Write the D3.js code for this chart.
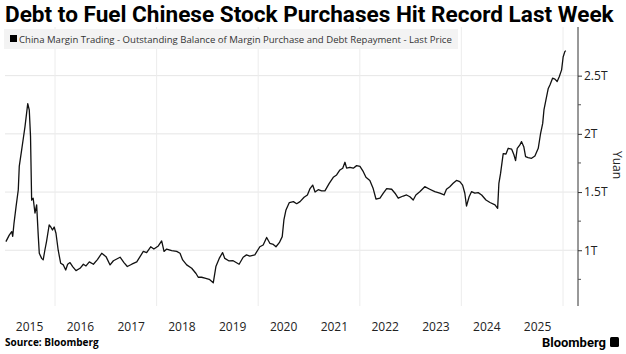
<!DOCTYPE html>
<html>
<head>
<meta charset="utf-8">
<script src="https://cdn.jsdelivr.net/npm/d3@7"></script>
<style>
  body { margin: 0; background: #fff; }
  svg { display: block; font-family: 'Open Sans', sans-serif; }
</style>
</head>
<body>
<div id="chart"></div>
<script>
// China margin trading balance, trillion yuan
const dates = [
  '2015-01-13', '2015-02-06', '2015-02-24', '2015-03-03', '2015-03-12', '2015-03-27', '2015-04-12', '2015-04-19',
  '2015-05-06', '2015-05-18', '2015-05-30', '2015-06-11', '2015-06-19', '2015-06-30', '2015-07-09', '2015-07-17',
  '2015-07-28', '2015-08-10', '2015-08-22', '2015-09-03', '2015-09-10', '2015-09-27', '2015-10-08', '2015-10-20',
  '2015-11-01', '2015-11-20', '2015-12-02', '2015-12-14', '2015-12-26', '2016-01-08', '2016-01-24', '2016-02-11',
  '2016-03-01', '2016-03-18', '2016-04-01', '2016-04-18', '2016-05-07', '2016-05-31', '2016-06-29', '2016-07-23',
  '2016-08-11', '2016-09-04', '2016-10-03', '2016-11-01', '2016-12-02', '2017-01-02', '2017-01-31', '2017-02-24',
  '2017-04-13', '2017-05-11', '2017-06-04', '2017-07-06', '2017-08-11', '2017-09-27', '2017-10-21', '2017-11-19',
  '2017-12-12', '2018-01-13', '2018-02-06', '2018-02-23', '2018-03-14', '2018-04-19', '2018-05-25', '2018-06-18',
  '2018-07-07', '2018-08-05', '2018-09-10', '2018-10-11', '2018-10-27', '2018-11-20', '2018-12-14', '2019-01-14',
  '2019-02-12', '2019-03-03', '2019-03-27', '2019-04-20', '2019-05-06', '2019-06-06', '2019-07-05', '2019-08-17',
  '2019-09-15', '2019-10-09', '2019-11-02', '2019-12-08', '2020-01-13', '2020-02-06', '2020-03-02', '2020-03-25',
  '2020-04-19', '2020-05-08', '2020-06-01', '2020-06-22', '2020-07-04', '2020-07-19', '2020-08-12', '2020-09-10',
  '2020-10-04', '2020-10-28', '2020-11-26', '2020-12-20', '2021-01-08', '2021-01-27', '2021-02-13', '2021-03-08',
  '2021-04-01', '2021-04-25', '2021-05-26', '2021-06-24', '2021-07-18', '2021-08-11', '2021-08-31', '2021-09-16',
  '2021-09-28', '2021-10-22', '2021-11-15', '2021-12-09', '2022-01-02', '2022-01-26', '2022-02-14', '2022-03-14',
  '2022-04-07', '2022-04-27', '2022-05-26', '2022-06-19', '2022-07-13', '2022-08-18', '2022-09-11', '2022-10-04',
  '2022-11-09', '2022-12-03', '2022-12-27', '2023-01-20', '2023-02-08', '2023-03-08', '2023-04-13', '2023-05-19',
  '2023-06-24', '2023-07-30', '2023-08-30', '2023-09-16', '2023-10-10', '2023-11-03', '2023-11-27', '2023-12-21',
  '2024-01-10', '2024-01-26', '2024-02-07', '2024-02-26', '2024-03-14', '2024-04-07', '2024-05-01', '2024-05-26',
  '2024-06-26', '2024-07-25', '2024-08-30', '2024-09-18', '2024-09-27', '2024-10-09', '2024-10-28', '2024-11-17',
  '2024-12-03', '2024-12-28', '2025-01-13', '2025-01-25', '2025-02-06', '2025-02-25', '2025-03-09', '2025-03-25',
  '2025-04-07', '2025-04-25', '2025-05-20', '2025-06-13', '2025-07-07', '2025-07-24', '2025-08-08', '2025-08-17',
  '2025-08-31', '2025-09-17', '2025-09-29', '2025-10-18', '2025-11-04', '2025-11-20', '2025-12-05', '2025-12-22',
  '2026-01-02', '2026-01-14', '2026-01-21',
];

const balance = [
  1.074, 1.13, 1.16, 1.12, 1.23, 1.375, 1.52, 1.72,
  1.86, 1.96, 2.06, 2.18, 2.26, 2.205, 1.976, 1.43,
  1.447, 1.32, 1.39, 1.117, 0.974, 0.93, 0.917, 1.0,
  1.074, 1.217, 1.2, 1.174, 1.2, 1.146, 1.0, 0.888,
  0.874, 0.83, 0.88, 0.894, 0.86, 0.825, 0.845, 0.88,
  0.865, 0.90, 0.88, 0.92, 0.974, 0.945, 0.874, 0.91,
  0.94, 0.894, 0.86, 0.88, 0.90, 0.99, 0.98, 1.03,
  1.01, 1.037, 1.08, 0.99, 1.01, 0.997, 0.99, 0.974,
  0.917, 0.874, 0.845, 0.80, 0.768, 0.768, 0.76, 0.75,
  0.72, 0.86, 0.93, 0.98, 0.93, 0.908, 0.91, 0.88,
  0.94, 0.96, 0.95, 0.96, 1.03, 1.045, 1.11, 1.06,
  1.05, 1.03, 1.065, 1.117, 1.26, 1.346, 1.41, 1.418,
  1.40, 1.418, 1.455, 1.475, 1.53, 1.56, 1.50, 1.52,
  1.51, 1.51, 1.575, 1.627, 1.647, 1.69, 1.705, 1.756,
  1.705, 1.713, 1.705, 1.727, 1.72, 1.675, 1.627, 1.60,
  1.53, 1.44, 1.447, 1.49, 1.53, 1.524, 1.49, 1.447,
  1.466, 1.475, 1.46, 1.432, 1.475, 1.503, 1.546, 1.524,
  1.503, 1.49, 1.475, 1.524, 1.546, 1.575, 1.60, 1.59,
  1.56, 1.49, 1.38, 1.46, 1.503, 1.49, 1.495, 1.475,
  1.432, 1.41, 1.39, 1.36, 1.575, 1.66, 1.83, 1.827,
  1.876, 1.868, 1.82, 1.77, 1.876, 1.905, 1.933, 1.89,
  1.804, 1.795, 1.79, 1.81, 1.876, 2.005, 2.09, 2.205,
  2.29, 2.39, 2.42, 2.478, 2.47, 2.45, 2.49, 2.55,
  2.66, 2.706, 2.715,
];

const years = ['2015', '2016', '2017', '2018', '2019', '2020', '2021', '2022', '2023', '2024', '2025'];
const majorTicks = [1, 1.5, 2, 2.5];
const minorTicks = [0.75, 1.25, 1.75, 2.25];
const gridYears = ['2016', '2018', '2020', '2022', '2024', '2026'];

const width = 626;
const height = 354;
const axisX = 578;
const plotTop = 27;
const plotBottom = 306;

const parse = d3.timeParse('%Y-%m-%d');
const series = dates.map((d, i) => ({ date: parse(d), value: balance[i] }));

const xScale = d3.scaleTime()
  .domain([new Date(2016, 0, 1), new Date(2026, 0, 1)])
  .range([55, 563]);

const yScale = d3.scaleLinear()
  .domain([0.521, 2.918])
  .range([plotBottom, plotTop]);

const svg = d3.select('#chart').append('svg')
  .attr('width', width)
  .attr('height', height);

// fits a text node to a target width by adjusting font size
const fitText = function (sel, target) {
  const node = sel.node();
  const size = parseFloat(sel.attr('font-size'));
  const len = node.getComputedTextLength();
  sel.attr('font-size', (size * target / len).toFixed(2));
};

// gridlines
svg.selectAll('.grid-y')
  .data(majorTicks)
  .enter()
  .append('line')
  .attr('x1', 5)
  .attr('x2', axisX)
  .attr('y1', d => yScale(d))
  .attr('y2', d => yScale(d))
  .attr('stroke', '#e6e6e6')
  .attr('stroke-width', 1);

svg.selectAll('.grid-x')
  .data(gridYears)
  .enter()
  .append('line')
  .attr('x1', d => xScale(new Date(+d, 0, 1)))
  .attr('x2', d => xScale(new Date(+d, 0, 1)))
  .attr('y1', plotTop)
  .attr('y2', plotBottom)
  .attr('stroke', '#ececec')
  .attr('stroke-width', 1);

// title
const title = svg.append('text')
  .attr('x', 5)
  .attr('y', 22)
  .attr('font-family', 'Roboto, sans-serif')
  .attr('font-weight', 700)
  .attr('font-size', 20)
  .attr('fill', '#000')
  .text('Debt to Fuel Chinese Stock Purchases Hit Record Last Week');
fitText(title, 609);

// legend
svg.append('rect')
  .attr('x', 4)
  .attr('y', 29)
  .attr('width', 454)
  .attr('height', 20)
  .attr('fill', '#f3f3f3');

svg.append('rect')
  .attr('x', 10)
  .attr('y', 35)
  .attr('width', 7)
  .attr('height', 7)
  .attr('fill', '#000');

const legend = svg.append('text')
  .attr('x', 19)
  .attr('y', 43)
  .attr('font-family', "'Liberation Sans Narrow', 'Open Sans', sans-serif")
  .attr('font-size', 11)
  .attr('fill', '#333')
  .text('China Margin Trading - Outstanding Balance of Margin Purchase and Debt Repayment - Last Price');
fitText(legend, 433);

// line
const line = d3.line()
  .x(d => xScale(d.date))
  .y(d => yScale(d.value));

svg.append('path')
  .datum(series)
  .attr('d', line)
  .attr('fill', 'none')
  .attr('stroke', '#111')
  .attr('stroke-width', 1.3)
  .attr('stroke-linejoin', 'round');

// y axis on the right
const yAxis = svg.append('g')
  .attr('transform', `translate(${axisX},0)`)
  .call(d3.axisRight(yScale)
    .tickValues(majorTicks)
    .tickSize(4)
    .tickPadding(2)
    .tickFormat(d => `${d}T`));

yAxis.select('.domain')
  .attr('d', `M0,${plotTop}V${plotBottom}`)
  .attr('stroke', '#333');
yAxis.selectAll('.tick line').attr('stroke', '#333');
yAxis.selectAll('.tick text')
  .attr('font-family', "'Open Sans', sans-serif")
  .attr('font-size', 12)
  .attr('fill', '#222');

svg.selectAll('.minor-tick')
  .data(minorTicks)
  .enter()
  .append('line')
  .attr('x1', axisX)
  .attr('x2', axisX + 3)
  .attr('y1', d => yScale(d))
  .attr('y2', d => yScale(d))
  .attr('stroke', '#555')
  .attr('stroke-width', 1);

svg.append('text')
  .attr('transform', `translate(613,${165}) rotate(90)`)
  .attr('text-anchor', 'middle')
  .attr('font-family', "'Open Sans', sans-serif")
  .attr('font-size', 12)
  .attr('fill', '#222')
  .text('Yuan');

// year labels, centred in each year
svg.selectAll('.year-label')
  .data(years)
  .enter()
  .append('text')
  .attr('x', d => xScale(new Date(+d, 6, 2)))
  .attr('y', 331)
  .attr('text-anchor', 'middle')
  .attr('font-family', "'Open Sans', sans-serif")
  .attr('font-size', 12)
  .attr('fill', '#222')
  .text(d => d);

// footer
svg.append('text')
  .attr('x', 5)
  .attr('y', 346)
  .attr('font-family', "'Open Sans', sans-serif")
  .attr('font-weight', 700)
  .attr('font-size', 10)
  .attr('fill', '#000')
  .text('Source: Bloomberg');

svg.append('text')
  .attr('x', 606)
  .attr('y', 347)
  .attr('text-anchor', 'end')
  .attr('font-family', 'Roboto, sans-serif')
  .attr('font-weight', 700)
  .attr('font-size', 13)
  .attr('fill', '#000')
  .text('Bloomberg');

svg.append('rect')
  .attr('x', 610)
  .attr('y', 337)
  .attr('width', 9)
  .attr('height', 10)
  .attr('rx', 1.5)
  .attr('fill', '#000');
</script>
</body>
</html>
